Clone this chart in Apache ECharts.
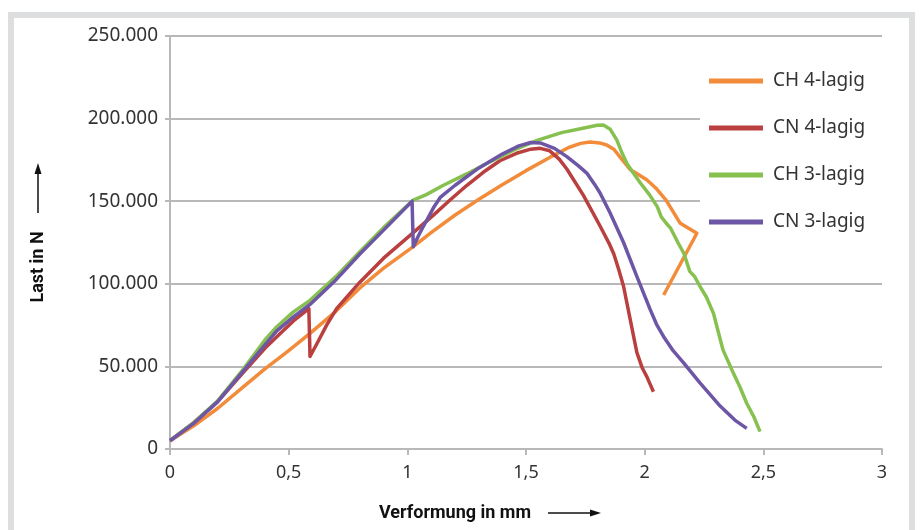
<!DOCTYPE html>
<html>
<head>
<meta charset="utf-8">
<script src="https://cdn.jsdelivr.net/npm/echarts/dist/echarts.min.js"></script>
<style>
html,body{margin:0;padding:0;background:#fff;}
#c{width:920px;height:530px;}
</style>
</head>
<body>
<div id="c"></div>
<script>
// ---- data ----
const seriesNames = ['CH 4-lagig', 'CN 4-lagig', 'CH 3-lagig', 'CN 3-lagig'];
const xTickLabels = ['0', '0,5', '1', '1,5', '2', '2,5', '3'];
const yTickLabels = ['0', '50.000', '100.000', '150.000', '200.000', '250.000'];

const ch4 = [[0,5000],[0.1,14000],[0.2,24500],[0.3,36500],[0.4,48500],[0.5,59500],[0.59,70000],[0.7,83500],[0.8,97500],[0.9,109500],[1.025,122500],[1.1,131000],[1.2,141500],[1.3,151000],[1.4,160000],[1.5,168500],[1.6,176500],[1.68,182500],[1.73,185000],[1.77,185800],[1.81,185300],[1.84,184000],[1.87,181500],[1.9,176000],[1.94,169000],[1.98,165500],[2.01,162800],[2.05,157500],[2.09,150700],[2.15,136600],[2.22,130600],[2.08,93200]];
const cn4 = [[0,5000],[0.1,16000],[0.2,28500],[0.31,46500],[0.4,61000],[0.45,68000],[0.52,77500],[0.585,85000],[0.59,56000],[0.62,64000],[0.66,75000],[0.702,85000],[0.8,101000],[0.9,115500],[1.025,131000],[1.11,141600],[1.18,150700],[1.25,159500],[1.32,167500],[1.39,174500],[1.46,179000],[1.52,181500],[1.56,182000],[1.6,180500],[1.64,175500],[1.672,169500],[1.742,153500],[1.812,135000],[1.85,124500],[1.87,118000],[1.89,109000],[1.911,98500],[1.939,78500],[1.967,58500],[1.99,49000],[2.009,43800],[2.037,34700]];
const ch3 = [[0,5000],[0.1,16000],[0.2,29000],[0.31,48500],[0.4,66000],[0.45,74000],[0.52,83000],[0.59,90000],[0.7,104500],[0.8,119500],[0.9,134000],[1.025,150700],[1.08,154000],[1.15,159500],[1.25,166500],[1.35,174000],[1.45,181000],[1.55,187000],[1.65,191500],[1.75,194500],[1.8,196000],[1.826,196100],[1.855,193500],[1.883,187000],[1.905,179000],[1.925,172900],[1.95,167500],[1.982,161000],[2.02,154000],[2.053,146700],[2.07,140500],[2.09,136800],[2.11,133500],[2.14,125000],[2.165,118500],[2.19,107500],[2.21,104500],[2.233,98500],[2.26,92000],[2.29,82100],[2.31,71000],[2.33,60000],[2.374,45800],[2.4,38000],[2.43,27700],[2.46,19500],[2.486,10500]];
const cn3 = [[0,5000],[0.1,15500],[0.2,28500],[0.31,47500],[0.4,63000],[0.45,71500],[0.52,80000],[0.59,87500],[0.7,102500],[0.8,118000],[0.9,132500],[1.02,150000],[1.025,122500],[1.05,130000],[1.08,138000],[1.11,146000],[1.14,152500],[1.2,159500],[1.3,170000],[1.4,178500],[1.47,183500],[1.52,185500],[1.56,185300],[1.62,182000],[1.672,177000],[1.72,171500],[1.756,167000],[1.79,160000],[1.812,155000],[1.854,143000],[1.911,125000],[1.967,104500],[2.023,84500],[2.05,75500],[2.08,68000],[2.12,59500],[2.165,52000],[2.233,40000],[2.318,26000],[2.38,17500],[2.43,12500]];
const seriesData = [ch4, cn4, ch3, cn3];
const colors = ['#f28b3a', '#b9403f', '#86c04f', '#6d56a6'];

const chart = echarts.init(document.getElementById('c'), null, {renderer: 'canvas'});
const axisGray = '#b8b8b8';
const option = {
  animation: false,
  backgroundColor: '#ffffff',
  grid: {left: 170, right: 38, top: 36, bottom: 81},
  xAxis: {
    type: 'value', min: 0, max: 3, interval: 0.5,
    axisLine: {show: true, onZero: false, lineStyle: {color: axisGray, width: 2}},
    axisTick: {show: true, length: 6, lineStyle: {color: axisGray, width: 2}},
    splitLine: {show: false},
    axisLabel: {
      margin: 15, color: '#333', fontFamily: 'Noto Sans', fontSize: 18,
      formatter: v => xTickLabels[Math.round(v / 0.5)]
    }
  },
  yAxis: {
    type: 'value', min: 0, max: 250000, interval: 50000,
    axisLine: {show: true, lineStyle: {color: axisGray, width: 2}},
    axisTick: {show: true, length: 5, lineStyle: {color: axisGray, width: 2}},
    splitLine: {show: true, lineStyle: {color: axisGray, width: 2}},
    axisLabel: {
      margin: 12, color: '#333', fontFamily: 'Noto Sans', fontSize: 19,
      formatter: v => yTickLabels[Math.round(v / 50000)]
    }
  },
  legend: {
    orient: 'vertical',
    left: 700, top: 50,
    padding: [20, 20, 20, 9],
    backgroundColor: '#ffffff',
    icon: 'rect',
    itemWidth: 54, itemHeight: 5,
    itemGap: 25,
    textStyle: {color: '#333', fontFamily: 'Noto Sans', fontSize: 19, lineHeight: 22, padding: [0, 0, 0, 5]},
    data: seriesNames
  },
  series: seriesNames.map((name, i) => ({
    name: name,
    type: 'line',
    data: seriesData[i],
    showSymbol: false,
    symbol: 'none',
    color: colors[i],
    lineStyle: {color: colors[i], width: 3.5, join: 'round'},
    z: 2 + i
  })),
  graphic: [
    {type: 'rect', shape: {x: 11, y: 15, width: 901, height: 540}, style: {fill: 'none', stroke: '#dcdedf', lineWidth: 6}, z: 100},
    {type: 'text', x: 38, y: 267, rotation: Math.PI / 2,
      style: {text: 'Last in N', fill: '#111', font: 'bold 18px Roboto', align: 'center', verticalAlign: 'middle'}},
    {type: 'line', shape: {x1: 38, y1: 213, x2: 38, y2: 172}, style: {stroke: '#111', lineWidth: 1.5}},
    {type: 'polygon', shape: {points: [[38, 163], [34.5, 174], [41.5, 174]]}, style: {fill: '#111'}},
    {type: 'text', x: 455, y: 513,
      style: {text: 'Verformung in mm', fill: '#111', font: 'bold 18px Roboto', align: 'center', verticalAlign: 'middle'}},
    {type: 'line', shape: {x1: 548, y1: 513, x2: 592, y2: 513}, style: {stroke: '#111', lineWidth: 1.5}},
    {type: 'polygon', shape: {points: [[601, 513], [590, 509.5], [590, 516.5]]}, style: {fill: '#111'}}
  ]
};
chart.setOption(option);
</script>
</body>
</html>
